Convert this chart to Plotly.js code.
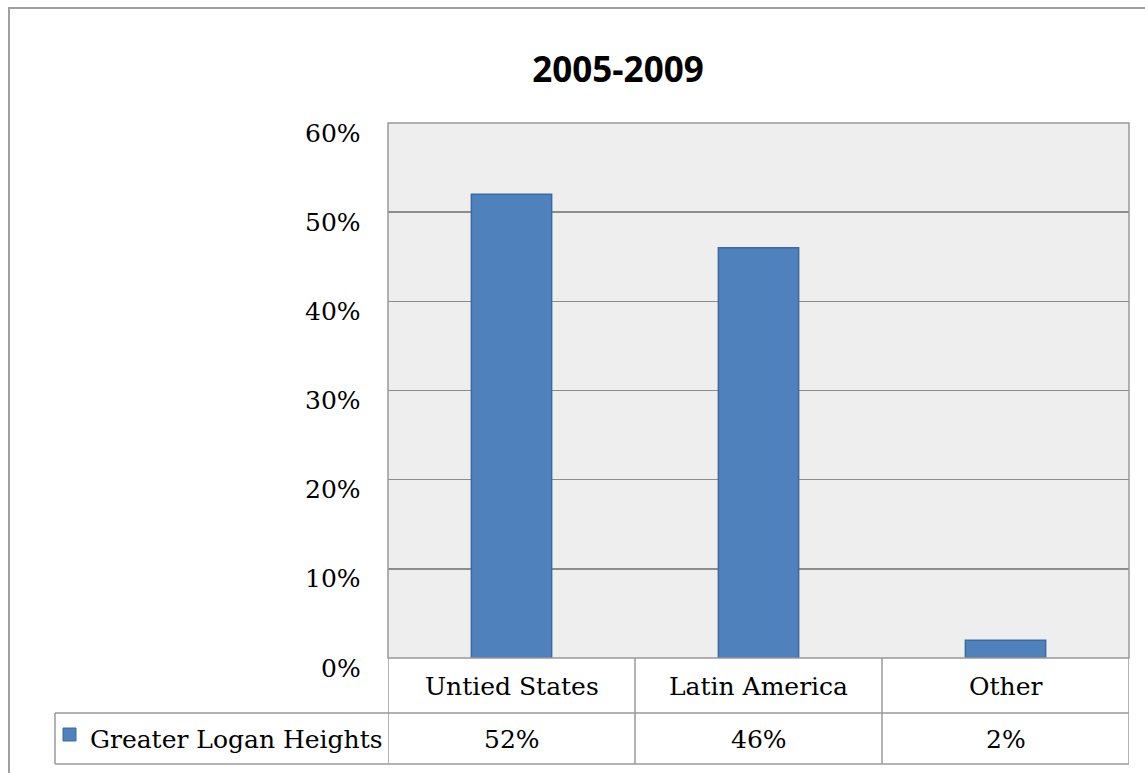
<!DOCTYPE html>
<html>
<head>
<meta charset="utf-8">
<script src="https://cdn.plot.ly/plotly-3.0.1.min.js"></script>
<style>html,body{margin:0;padding:0;background:#fff;}#chart{width:1145px;height:773px;}</style>
</head>
<body>
<div id="chart"></div>
<script>
const chartTitle = "2005-2009";
const categories = ["Untied States", "Latin America", "Other"];
const seriesName = "Greater Logan Heights";
const values = [0.52, 0.46, 0.02];
const valueLabels = ["52%", "46%", "2%"];
const tickValues = [0, 0.1, 0.2, 0.3, 0.4, 0.5, 0.6];
const tickLabels = ["0%", "10%", "20%", "30%", "40%", "50%", "60%"];

const W = 1145, H = 773;
const L = 388, R = 1129, T = 123, B = 658;
const pw = R - L, ph = B - T;
const px = x => (x - L) / pw;      // pixel -> paper x
const py = y => (B - y) / ph;      // pixel -> paper y

const serif = "DejaVu Serif, Liberation Serif, serif";
const fs = 25;
const lineCol = "#9a9a9a";
const shapes = [];
const annotations = [];

// outer frame
shapes.push({type:"rect", xref:"paper", yref:"paper", x0:px(9), x1:px(1160), y0:py(790), y1:py(8),
  line:{color:"#a0a0a0", width:2}, fillcolor:"rgba(0,0,0,0)", layer:"below"});
// plot area border
shapes.push({type:"rect", xref:"paper", yref:"paper", x0:0, x1:1, y0:0, y1:1,
  line:{color:"#999", width:1.5}, fillcolor:"rgba(0,0,0,0)"});
// data table grid
const rowMid = py(713), rowBot = py(764);
shapes.push({type:"line", xref:"paper", yref:"paper", x0:px(55), x1:1, y0:rowMid, y1:rowMid, line:{color:lineCol, width:1.5}});
shapes.push({type:"line", xref:"paper", yref:"paper", x0:px(55), x1:1, y0:rowBot, y1:rowBot, line:{color:lineCol, width:1.5}});
shapes.push({type:"line", xref:"paper", yref:"paper", x0:px(55), x1:px(55), y0:rowBot, y1:rowMid, line:{color:lineCol, width:1.5}});
for (let i = 0; i <= categories.length; i++) {
  shapes.push({type:"line", xref:"x", yref:"paper", x0:i-0.5, x1:i-0.5, y0:rowBot, y1:0, line:{color:lineCol, width:1.5}});
}
// legend swatch
shapes.push({type:"rect", xref:"paper", yref:"paper", x0:px(63), x1:px(76), y0:py(741), y1:py(728),
  fillcolor:"#4f81bd", line:{color:"#3d6a9e", width:1}});

annotations.push({text:seriesName, xref:"paper", yref:"paper", x:px(88), y:py(739), xanchor:"left", yanchor:"middle",
  showarrow:false, font:{family:serif, size:fs, color:"#000"}});
categories.forEach((c, i) => {
  annotations.push({text:c, xref:"x", yref:"paper", x:i, y:py(686), xanchor:"center", yanchor:"middle",
    showarrow:false, font:{family:serif, size:fs, color:"#000"}});
  annotations.push({text:valueLabels[i], xref:"x", yref:"paper", x:i, y:py(739), xanchor:"center", yanchor:"middle",
    showarrow:false, font:{family:serif, size:fs, color:"#000"}});
});
tickValues.forEach((v, i) => {
  annotations.push({text:tickLabels[i], xref:"paper", yref:"y", x:px(363), y:v, yshift:-10, xanchor:"right", yanchor:"middle",
    showarrow:false, font:{family:serif, size:fs, color:"#000"}});
});

const data = [{
  type:"bar", x:categories, y:values, name:seriesName,
  marker:{color:"#4f81bd", line:{color:"#3d6a9e", width:1.5}},
  width:0.325, hoverinfo:"skip"
}];

const layout = {
  width:W, height:H,
  margin:{l:L, r:W-R, t:T, b:H-B, pad:0},
  paper_bgcolor:"#fff", plot_bgcolor:"#eeeeee",
  showlegend:false,
  title:{text:"<b>"+chartTitle+"</b>", xref:"container", yref:"container", x:618/W, y:1-70/H,
    xanchor:"center", yanchor:"middle", font:{family:"Open Sans, sans-serif", size:35, color:"#000"}},
  xaxis:{type:"category", range:[-0.5, 2.5], showticklabels:false, showgrid:false, zeroline:false, showline:false, fixedrange:true},
  yaxis:{range:[0, 0.6], tickvals:tickValues, showticklabels:false, showgrid:true, gridcolor:"#8c8c8c", gridwidth:1.5,
    zeroline:false, showline:false, fixedrange:true},
  shapes:shapes, annotations:annotations
};

Plotly.newPlot("chart", data, layout, {displayModeBar:false, staticPlot:true});
</script>
</body>
</html>
